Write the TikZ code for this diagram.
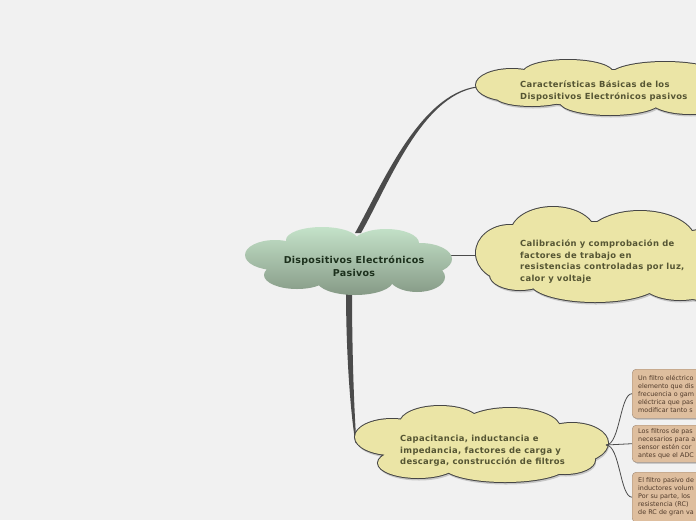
\documentclass[tikz,border=0pt]{standalone}
\usepackage{fontspec}
\setmainfont{DejaVu Sans}
\newfontfamily\cloudfont[LetterSpace=4]{DejaVu Sans}
\newfontfamily\mainfont[LetterSpace=3]{DejaVu Sans}
\newfontfamily\notefont{DejaVu Sans}
\usetikzlibrary{calc,shadows}
\definecolor{bg}{RGB}{241,241,241}
\definecolor{cloudfill}{RGB}{235,229,166}
\definecolor{cloudline}{RGB}{70,70,70}
\definecolor{cloudtext}{RGB}{85,85,51}
\definecolor{maintop}{RGB}{196,226,201}
\definecolor{mainbot}{RGB}{134,154,134}
\definecolor{maintext}{RGB}{28,48,28}
\definecolor{conn}{RGB}{75,75,75}
\definecolor{boxfill}{RGB}{222,190,158}
\definecolor{boxline}{RGB}{160,138,118}
\definecolor{boxtext}{RGB}{80,58,42}
\tikzset{
  cloudlabel/.style={anchor=west, align=left, inner sep=0pt, text=cloudtext,
    font=\cloudfont\fontsize{8.4}{11.5}\selectfont\bfseries},
  notebox/.style={draw=boxline, fill=boxfill, rounded corners=4pt, anchor=north west,
    minimum width=100pt, text width=88pt, inner xsep=6pt, align=left, text=boxtext,
    font=\notefont\fontsize{6.4}{8}\selectfont,
    drop shadow={shadow xshift=1.5pt, shadow yshift=-1.5pt, opacity=0.25, fill=black}},
  thinconn/.style={draw=conn, line width=0.8pt},
}
\newcommand\mainshape[1]{\path[#1]
  (275,255) ellipse [x radius=30pt, y radius=15pt]
  (322,240) ellipse [x radius=36pt, y radius=13pt]
  (386,243) ellipse [x radius=33pt, y radius=14pt]
  (420,259) ellipse [x radius=32pt, y radius=16pt]
  (297,275) ellipse [x radius=33pt, y radius=14pt]
  (355,281) ellipse [x radius=38pt, y radius=14pt]
  (417,277) ellipse [x radius=28pt, y radius=15pt]
  (350,262) ellipse [x radius=75pt, y radius=22pt];}
\newcommand\cloudA[1]{\path[#1]
  (512,85) ellipse [x radius=36pt, y radius=16pt]
  (532,97) ellipse [x radius=36pt, y radius=9pt]
  (568,73) ellipse [x radius=45pt, y radius=13pt]
  (665,76) ellipse [x radius=55pt, y radius=14pt]
  (610,102) ellipse [x radius=50pt, y radius=13pt]
  (690,100) ellipse [x radius=40pt, y radius=14pt]
  (600,88) ellipse [x radius=90pt, y radius=18pt];}
\newcommand\cloudB[1]{\path[#1]
  (510,253) ellipse [x radius=34pt, y radius=28pt]
  (553,233) ellipse [x radius=42pt, y radius=26pt]
  (640,241) ellipse [x radius=55pt, y radius=30pt]
  (700,265) ellipse [x radius=30pt, y radius=35pt]
  (520,275) ellipse [x radius=30pt, y radius=15pt]
  (595,282) ellipse [x radius=65pt, y radius=20pt]
  (680,280) ellipse [x radius=40pt, y radius=20pt]
  (600,257) ellipse [x radius=90pt, y radius=35pt];}
\newcommand\cloudC[1]{\path[#1]
  (392,437) ellipse [x radius=37pt, y radius=18pt]
  (440,423) ellipse [x radius=40pt, y radius=17pt]
  (510,428) ellipse [x radius=50pt, y radius=20pt]
  (572,443) ellipse [x radius=36pt, y radius=20pt]
  (418,463) ellipse [x radius=40pt, y radius=15pt]
  (505,466) ellipse [x radius=62pt, y radius=16pt]
  (565,460) ellipse [x radius=30pt, y radius=14pt]
  (480,445) ellipse [x radius=100pt, y radius=22pt];}
\begin{document}
\begin{tikzpicture}[x=1pt,y=-1pt]
\useasboundingbox (0,0) rectangle (696,520);
\fill[bg] (0,0) rectangle (696,520);
% anchor points
\coordinate (mtop) at (358,232);
\coordinate (mbot) at (349,290);
\coordinate (mright) at (450,255);
\coordinate (c1w) at (477,87);
\coordinate (c2w) at (477,255);
\coordinate (c3w) at (356,443);
\coordinate (c3e) at (606,445);
% main connectors (tapered)
\fill[conn] ($(mtop)+(-3,1)$) .. controls (382,185) and (419,94.5) .. ($(c1w)+(0,-0.5)$)
  -- ($(c1w)+(0,0.5)$) .. controls (421,96) and (388,186) .. ($(mtop)+(3,1)$) -- cycle;
\fill[conn] ($(mbot)+(-3,0)$) .. controls (346,350) and (350,410) .. ($(c3w)+(-0.5,0)$)
  -- ($(c3w)+(0.5,0)$) .. controls (354,410) and (352,350) .. ($(mbot)+(3,0)$) -- cycle;
\draw[thinconn] (mright) -- (c2w);
% central cloud
\mainshape{top color=maintop, bottom color=mainbot}
\node[align=center, inner sep=0pt, text=maintext, font=\mainfont\fontsize{9.5}{13}\selectfont\bfseries]
  (main) at (354,266) {Dispositivos Electrónicos\\Pasivos};
% yellow clouds
\cloudA{fill=black!22, shift={(1,2.5)}}
\cloudA{draw=cloudline, line width=2pt}
\cloudA{fill=cloudfill}
\node[cloudlabel] (t1) at (520,91) {Características Básicas de los\\Dispositivos Electrónicos pasivos};
\cloudB{fill=black!22, shift={(1,2.5)}}
\cloudB{draw=cloudline, line width=2pt}
\cloudB{fill=cloudfill}
\node[cloudlabel] (t2) at (520,261.5) {Calibración y comprobación de\\factores de trabajo en\\resistencias controladas por luz,\\calor y voltaje};
\cloudC{fill=black!22, shift={(1,2.5)}}
\cloudC{draw=cloudline, line width=2pt}
\cloudC{fill=cloudfill}
\node[cloudlabel] (t3) at (400,451) {Capacitancia, inductancia e\\impedancia, factores de carga y\\descarga, construcción de filtros};
% note boxes
\node[notebox, minimum height=49pt] (b1) at (632,369) {Un filtro eléctrico\\elemento que dis\\frecuencia o gam\\eléctrica que pas\\modificar tanto s};
\node[notebox, minimum height=37pt] (b2) at (632,425) {Los filtros de pas\\necesarios para a\\sensor estén cor\\antes que el ADC};
\node[notebox, minimum height=50pt] (b3) at (632,472) {El filtro pasivo de\\inductores volum\\Por su parte, los\\resistencia (RC)\\de RC de gran va};
\draw[thinconn] (c3e) .. controls +(14,0) and +(-12,0) .. (b1.west);
\draw[thinconn] (c3e) -- (b2.west);
\draw[thinconn] (c3e) .. controls +(14,0) and +(-12,0) .. (b3.west);
\end{tikzpicture}
\end{document}
